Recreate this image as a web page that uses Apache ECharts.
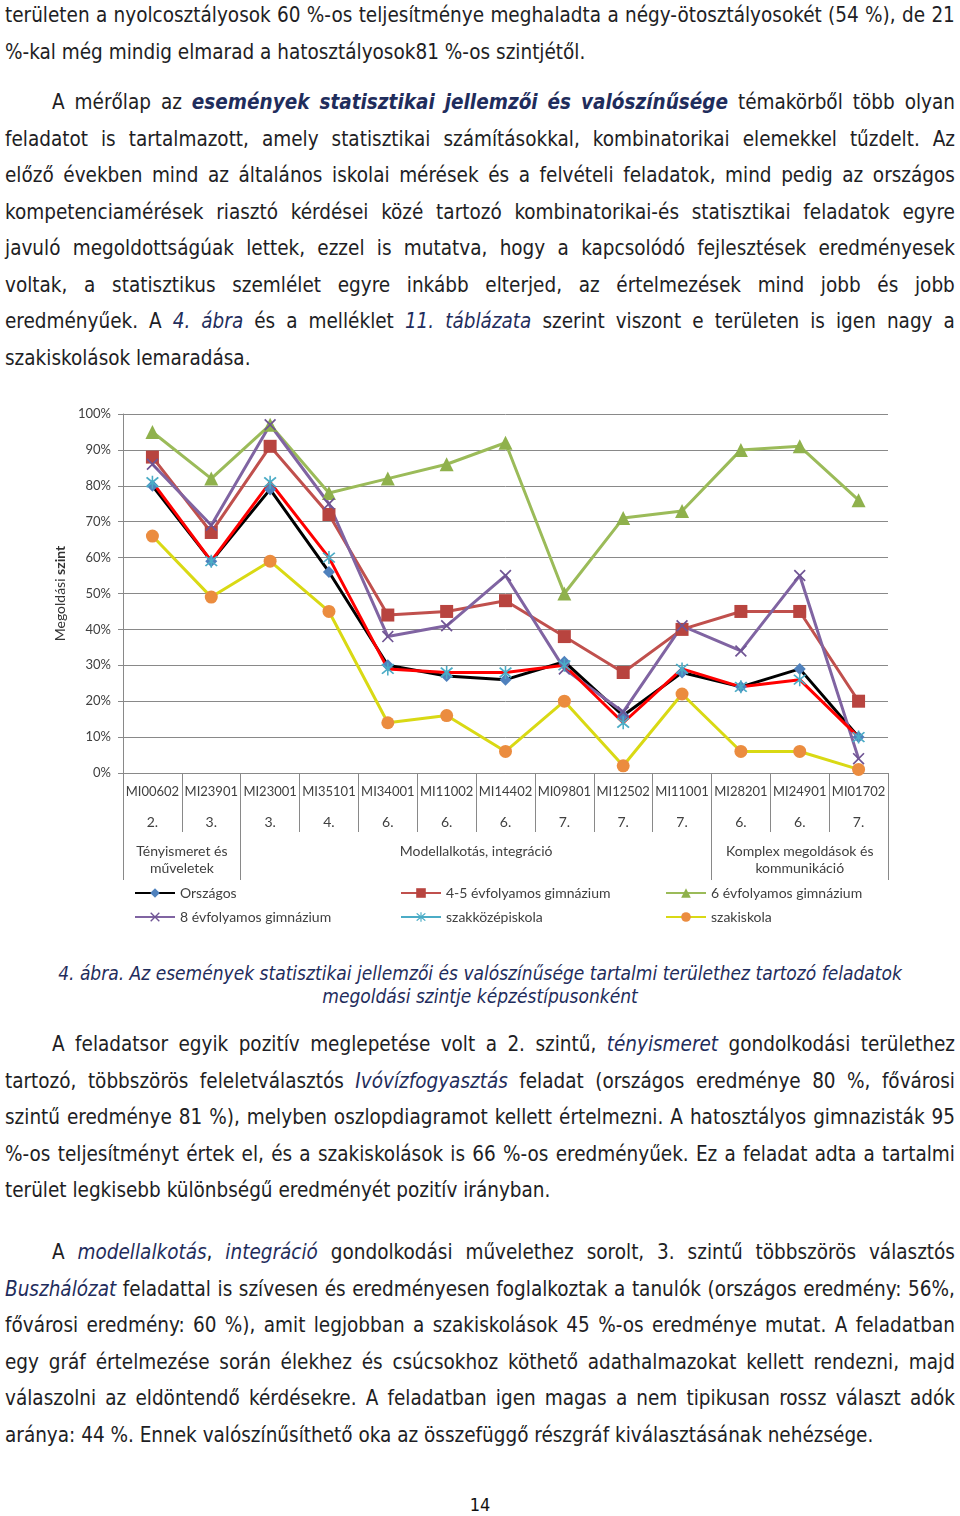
<!DOCTYPE html>
<html lang="hu">
<head>
<meta charset="utf-8">
<script src="https://cdn.jsdelivr.net/npm/echarts@6/dist/echarts.min.js"></script>
<style>
  html, body { margin: 0; padding: 0; background: #fff; }
  body { width: 960px; height: 1516px; position: relative; overflow: hidden; }
  .ln { position: absolute; left: 5px; width: 950px; height: 36px; line-height: 36px;
        white-space: nowrap; color: #1e1e24; font-size: 20.5px; transform-origin: 0 0; }
  .ln.j { display: flex; justify-content: space-between; }
  .ln.ind { left: 52px; width: 903px; }
  .ln i { color: #1f2d5c; font-style: italic; }
  .ln b { font-weight: bold; }
  .cap { position: absolute; left: 0; width: 960px; text-align: center; color: #1f2d5c;
         font-style: italic; font-size: 19px; line-height: 23px; height: 23px; white-space: nowrap; }
  #chart { position: absolute; left: 0; top: 390px; width: 960px; height: 550px; }
  #pg { position: absolute; left: 0; width: 960px; text-align: center; top: 1493px;
        font-size: 18px; line-height: 24px; color: #111; }
</style>
</head>
<body>
<div id="text"></div>
<div id="chart"></div>
<div id="pg">14</div>
<script>
// ---------------- chart data ----------------
const categories = ['MI00602','MI23901','MI23001','MI35101','MI34001','MI11002','MI14402','MI09801','MI12502','MI11001','MI28201','MI24901','MI01702'];
const levels = ['2.','3.','3.','4.','6.','6.','6.','7.','7.','7.','6.','6.','7.'];
const groupNames = ['Tényismeret és\nműveletek','Modellalkotás, integráció','Komplex megoldások és\nkommunikáció'];
const groupBounds = [0, 2, 10, 13];
const orszagos   = [80, 59, 79, 56, 30, 27, 26, 31, 16, 28, 24, 29, 10];
const gimn45     = [88, 67, 91, 72, 44, 45, 48, 38, 28, 40, 45, 45, 20];
const gimn6      = [95, 82, 97, 78, 82, 86, 92, 50, 71, 73, 90, 91, 76];
const gimn8      = [86, 69, 97, 75, 38, 41, 55, 29, 17, 41, 34, 55, 4];
const szakkozep  = [81, 59, 81, 60, 29, 28, 28, 30, 14, 29, 24, 26, 10];
const szakiskola = [66, 49, 59, 45, 14, 16, 6, 20, 2, 22, 6, 6, 1];
const yMin = 0, yMax = 100, yStep = 10;

// ---------------- page text ----------------
const textLines = [
  { c: 15,   t: 'területen a nyolcosztályosok 60 %-os teljesítménye meghaladta a négy-ötosztályosokét (54 %), de 21', j: true },
  { c: 51.5, t: '%-kal még mindig elmarad a hatosztályosok81 %-os szintjétől.' },
  { c: 102,  t: 'A mérőlap az <b><i>események statisztikai jellemzői és valószínűsége</i></b> témakörből több olyan', j: true, ind: true },
  { c: 138.5,t: 'feladatot is tartalmazott, amely statisztikai számításokkal, kombinatorikai elemekkel tűzdelt. Az', j: true },
  { c: 175,  t: 'előző években mind az általános iskolai mérések és a felvételi feladatok, mind pedig az országos', j: true },
  { c: 211.5,t: 'kompetenciamérések riasztó kérdései közé tartozó kombinatorikai-és statisztikai feladatok egyre', j: true },
  { c: 248,  t: 'javuló megoldottságúak lettek, ezzel is mutatva, hogy a kapcsolódó fejlesztések eredményesek', j: true },
  { c: 284.5,t: 'voltak, a statisztikus szemlélet egyre inkább elterjed, az értelmezések mind jobb és jobb', j: true },
  { c: 321,  t: 'eredményűek. A <i>4. ábra</i> és a melléklet <i>11. táblázata</i> szerint viszont e területen is igen nagy a', j: true },
  { c: 357.5,t: 'szakiskolások lemaradása.' },
  { c: 1044, t: 'A feladatsor egyik pozitív meglepetése volt a 2. szintű, <i>tényismeret</i> gondolkodási területhez', j: true, ind: true },
  { c: 1080.5,t:'tartozó, többszörös feleletválasztós <i>Ivóvízfogyasztás</i> feladat (országos eredménye 80 %, fővárosi', j: true },
  { c: 1117, t: 'szintű eredménye 81 %), melyben oszlopdiagramot kellett értelmezni. A hatosztályos gimnazisták 95', j: true },
  { c: 1153.5,t:'%-os teljesítményt értek el, és a szakiskolások is 66 %-os eredményűek. Ez a feladat adta a tartalmi', j: true },
  { c: 1190, t: 'terület legkisebb különbségű eredményét pozitív irányban.' },
  { c: 1252, t: 'A <i>modellalkotás</i>, <i>integráció</i> gondolkodási művelethez sorolt, 3. szintű többszörös választós', j: true, ind: true },
  { c: 1288.5,t:'<i>Buszhálózat</i> feladattal is szívesen és eredményesen foglalkoztak a tanulók (országos eredmény: 56%,', j: true },
  { c: 1325, t: 'fővárosi eredmény: 60 %), amit legjobban a szakiskolások 45 %-os eredménye mutat. A feladatban', j: true },
  { c: 1361.5,t:'egy gráf értelmezése során élekhez és csúcsokhoz köthető adathalmazokat kellett rendezni, majd', j: true },
  { c: 1398, t: 'válaszolni az eldöntendő kérdésekre. A feladatban igen magas a nem tipikusan rossz választ adók', j: true },
  { c: 1434.5,t:'aránya: 44 %. Ennek valószínűsíthető oka az összefüggő részgráf kiválasztásának nehézsége.' }
];
const captionLines = [
  { c: 973, t: '4. ábra. Az események statisztikai jellemzői és valószínűsége tartalmi területhez tartozó feladatok' },
  { c: 996, t: 'megoldási szintje képzéstípusonként' }
];

(function buildText() {
  const cv = document.createElement('canvas').getContext('2d');
  cv.font = '20px monospace'; const wm = cv.measureText('abcdefghijklm').width;
  cv.font = '20px "DejaVu Sans Condensed", monospace'; const wc = cv.measureText('abcdefghijklm').width;
  const hasCond = Math.abs(wm - wc) > 0.5;
  const fam = hasCond ? '"DejaVu Sans Condensed", "DejaVu Sans", sans-serif' : '"DejaVu Sans", sans-serif';
  const sx = hasCond ? 1 : 0.9;
  const root = document.getElementById('text');
  textLines.forEach(L => {
    const d = document.createElement('div');
    d.className = 'ln' + (L.j ? ' j' : '') + (L.ind ? ' ind' : '');
    d.style.fontFamily = fam;
    d.style.top = (L.c - 18) + 'px';
    if (sx !== 1) { d.style.transform = 'scaleX(' + sx + ')'; d.style.width = ((L.ind ? 903 : 950) / sx) + 'px'; }
    if (L.j) {
      let inI = false, inB = false;
      L.t.split(' ').forEach(w => {
        const s = document.createElement('span');
        s.innerHTML = (inB ? '<b>' : '') + (inI ? '<i>' : '') + w;
        const seq = w.match(/<\/?[ib]>/g) || [];
        seq.forEach(tg => {
          if (tg === '<i>') inI = true; else if (tg === '</i>') inI = false;
          else if (tg === '<b>') inB = true; else if (tg === '</b>') inB = false;
        });
        d.appendChild(s);
      });
    } else {
      d.innerHTML = L.t;
    }
    root.appendChild(d);
  });
  captionLines.forEach(L => {
    const d = document.createElement('div');
    d.className = 'cap';
    d.style.fontFamily = fam;
    d.style.top = (L.c - 11.5) + 'px';
    if (sx !== 1) { d.style.transform = 'scaleX(' + sx + ')'; d.style.transformOrigin = '480px 0'; }
    d.textContent = L.t;
    root.appendChild(d);
  });
  document.getElementById('pg').style.fontFamily = fam;
})();

// ---------------- chart ----------------
const XMARK = 'path://M0,1 L1,0 L10,9 L9,10 Z M9,0 L10,1 L1,10 L0,9 Z';
const STAR = 'path://M0,1 L1,0 L10,9 L9,10 Z M9,0 L10,1 L1,10 L0,9 Z M4.4,-1 L5.6,-1 L5.6,11 L4.4,11 Z';
const axisGray = '#898989';
const txt = '#404040';
const FONT = 'Lato, "Open Sans", sans-serif';

const chart = echarts.init(document.getElementById('chart'), null, { renderer: 'canvas' });
const groupCenters = groupNames.map((g, i) => (groupBounds[i] + groupBounds[i + 1]) / 2);

const mk = (name, data, symbol, size, lineColor, itemColor) => ({
  name, type: 'line', data, symbol, symbolSize: size, showSymbol: true,
  xAxisIndex: 0, yAxisIndex: 0,
  lineStyle: { color: lineColor, width: 3 },
  itemStyle: { color: itemColor },
  emphasis: { disabled: true }
});

const legendText = { color: txt, fontFamily: FONT, fontSize: 14 };
const legendBase = { orient: 'vertical', top: 496, padding: 0, itemGap: 10, itemWidth: 40, itemHeight: 12, textStyle: legendText, selectedMode: false };

chart.setOption({
  animation: false,
  textStyle: { fontFamily: FONT },
  grid: { left: 123, right: 72, top: 24, height: 359 },
  legend: [
    Object.assign({ left: 134, data: ['Országos', '8 évfolyamos gimnázium'] }, legendBase),
    Object.assign({ left: 400, data: ['4-5 évfolyamos gimnázium', { name: 'szakközépiskola', lineStyle: { color: '#4bacc6' } }] }, legendBase),
    Object.assign({ left: 665, data: ['6 évfolyamos gimnázium', 'szakiskola'] }, legendBase)
  ],
  xAxis: [
    {
      type: 'category', data: categories, boundaryGap: true, position: 'bottom',
      axisLine: { show: true, lineStyle: { color: axisGray, width: 1 } },
      axisTick: { show: true, interval: 0, length: 59, lineStyle: { color: axisGray } },
      axisLabel: {
        interval: 0, margin: 4, color: txt, fontFamily: FONT, fontSize: 13,
        formatter: (v, i) => '{c|' + v + '}\n{l|' + levels[i] + '}',
        rich: { c: { lineHeight: 30, fontSize: 13, color: txt, fontFamily: FONT }, l: { lineHeight: 30, fontSize: 14, color: txt, fontFamily: FONT } }
      },
      splitLine: { show: false }
    },
    {
      type: 'value', min: groupBounds[0], max: groupBounds[groupBounds.length - 1], position: 'bottom',
      axisLine: { show: false },
      axisTick: { show: true, length: 107, customValues: groupBounds, lineStyle: { color: axisGray } },
      axisLabel: {
        customValues: groupCenters, margin: 70, color: txt, fontFamily: FONT, fontSize: 14, lineHeight: 17,
        formatter: v => { const k = groupCenters.indexOf(v); return k >= 0 ? groupNames[k] : ''; }
      },
      splitLine: { show: false }
    }
  ],
  yAxis: {
    type: 'value', min: yMin, max: yMax, interval: yStep,
    name: '{a|Megoldási }{b|szint}', nameLocation: 'middle', nameGap: 56, nameRotate: 90,
    nameTextStyle: { rich: { a: { fontSize: 14, color: '#333', fontFamily: FONT }, b: { fontSize: 14, color: '#333', fontWeight: 'bold', fontFamily: FONT } } },
    axisLine: { show: true, lineStyle: { color: axisGray } },
    axisTick: { show: true, length: 5, lineStyle: { color: axisGray } },
    axisLabel: { formatter: '{value}%', color: txt, fontFamily: FONT, fontSize: 13, margin: 12 },
    splitLine: { show: true, lineStyle: { color: axisGray, width: 1 } }
  },
  series: [
    mk('Országos', orszagos, 'diamond', 12, '#000000', '#4f81bd'),
    mk('4-5 évfolyamos gimnázium', gimn45, 'rect', 13, '#c0504d', '#b8443f'),
    mk('6 évfolyamos gimnázium', gimn6, 'triangle', 14, '#9bbb59', '#8fb14c'),
    mk('8 évfolyamos gimnázium', gimn8, XMARK, 12, '#8064a2', '#6f5494'),
    mk('szakközépiskola', szakkozep, STAR, 13, '#ff0000', '#4bacc6'),
    mk('szakiskola', szakiskola, 'circle', 13, '#d9d914', '#eb8c3f')
  ]
});
</script>
</body>
</html>
